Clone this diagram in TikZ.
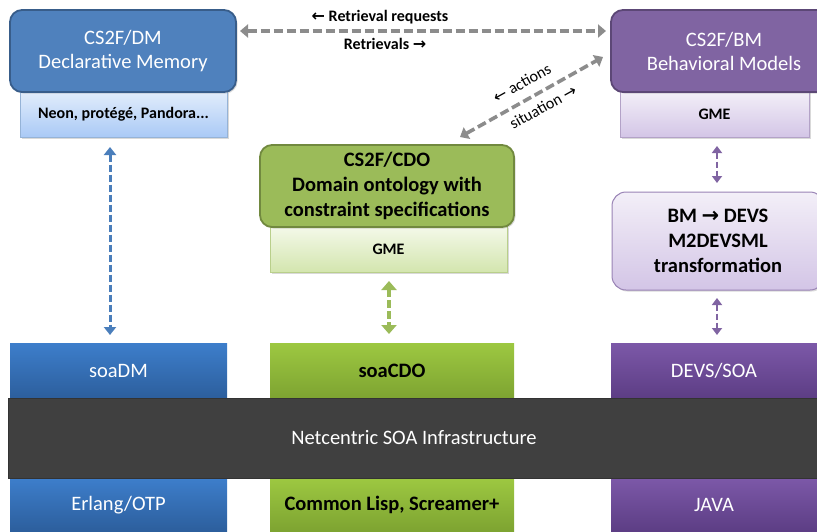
\documentclass[tikz,border=0pt]{standalone}
\usepackage{fontspec}
\setmainfont{Carlito}
\newfontfamily\symf{DejaVu Sans}
\usetikzlibrary{arrows.meta,shadows}
\definecolor{dmfill}{HTML}{4F81BD}
\definecolor{dmdraw}{HTML}{385D8A}
\definecolor{bmfill}{HTML}{8064A2}
\definecolor{bmdraw}{HTML}{5C4776}
\definecolor{cdofill}{HTML}{9BBB59}
\definecolor{cdodraw}{HTML}{71893F}
\definecolor{dmsubtop}{HTML}{E2EDFB}
\definecolor{dmsubbot}{HTML}{A9C9F6}
\definecolor{bmsubtop}{HTML}{F3EFF8}
\definecolor{bmsubbot}{HTML}{D3C5E6}
\definecolor{cdosubtop}{HTML}{F4F9E9}
\definecolor{cdosubbot}{HTML}{D3E5AE}
\definecolor{blutop}{HTML}{3D7ECB}
\definecolor{blubot}{HTML}{2C5E9C}
\definecolor{grntop}{HTML}{9DC841}
\definecolor{grnbot}{HTML}{7DA331}
\definecolor{purtop}{HTML}{7C58A8}
\definecolor{purbot}{HTML}{5C3D84}
\definecolor{bandfill}{HTML}{404040}
\definecolor{arrgray}{HTML}{8C8C8C}
\definecolor{arrblue}{HTML}{4A7EBB}
\begin{document}
\begin{tikzpicture}[x=1pt,y=-1pt,
  big/.style={font=\fontsize{20.5}{24}\selectfont},
  bigb/.style={font=\fontsize{20.5}{25}\selectfont\bfseries},
  topbox/.style={rounded corners=12pt, line width=1.8pt, inner sep=0pt, align=center, big,
    drop shadow={shadow xshift=1.5pt, shadow yshift=-1.5pt, opacity=0.3}},
  subbox/.style={inner sep=0pt, line width=0.6pt, align=center,
    font=\fontsize{16}{18}\selectfont\bfseries,
    drop shadow={shadow xshift=1.5pt, shadow yshift=-1.5pt, opacity=0.3}},
  layer/.style={inner sep=0pt, align=center, big},
  garrow/.style={draw=arrgray, line width=3.6pt, dash pattern=on 9pt off 4pt,
    {Triangle[length=8pt,width=13pt]}-{Triangle[length=8pt,width=13pt]}},
  varrow/.style={line width=3pt, dash pattern=on 7pt off 3pt,
    {Triangle[length=8pt,width=12pt]}-{Triangle[length=8pt,width=12pt]}},
  lbl/.style={inner sep=0pt, font=\fontsize{16}{18}\selectfont}
]
\useasboundingbox (0,0) rectangle (817,531);
\clip (0,0) rectangle (817,531);

% DM
\node[subbox, top color=dmsubtop, bottom color=dmsubbot, draw=dmfill!60,
  minimum width=207, minimum height=46] (dmsub) at (123.5,114.5) {Neon, protégé, Pandora...};
\node[topbox, fill=dmfill, draw=dmdraw, text=white,
  minimum width=226, minimum height=82] (dm) at (123,51) {CS2F/DM\\Declarative Memory};

% BM
\node[subbox, top color=bmsubtop, bottom color=bmsubbot, draw=bmfill!60,
  minimum width=189, minimum height=46] (bmsub) at (714.5,114.5) {GME};
\node[topbox, fill=bmfill, draw=bmdraw, text=white,
  minimum width=226, minimum height=82] (bm) at (724,51) {CS2F/BM\\Behavioral Models};

% CDO
\node[subbox, top color=cdosubtop, bottom color=cdosubbot, draw=cdofill!70,
  minimum width=237, minimum height=46] (cdosub) at (388.5,249.5) {GME};
\node[topbox, fill=cdofill, draw=cdodraw, text=black, bigb,
  minimum width=254, minimum height=82] (cdo) at (387,186) {CS2F/CDO\\Domain ontology with\\constraint specifications};

% BM -> DEVS
\node[rounded corners=14pt, line width=1pt, draw=bmfill!80, top color=bmsubtop, bottom color=bmsubbot,
  inner sep=0pt, align=center, bigb,
  drop shadow={shadow xshift=1.5pt, shadow yshift=-1.5pt, opacity=0.3},
  minimum width=212, minimum height=98] (trans) at (718,241)
  {BM {\symf\bfseries\fontsize{21}{25}\selectfont →} DEVS\\M2DEVSML\\transformation};

% bottom layers
\node[layer, top color=blutop, bottom color=blubot, text=white,
  minimum width=217, minimum height=56] (soadm) at (118.5,371) {soaDM};
\node[layer, top color=grntop, bottom color=grnbot, text=black, bigb,
  minimum width=244, minimum height=56] (soacdo) at (392,371) {soaCDO};
\node[layer, top color=purtop, bottom color=purbot, text=white,
  minimum width=206, minimum height=56] (devs) at (714,371) {DEVS/SOA};

\node[layer, top color=blutop, bottom color=blubot, text=white,
  minimum width=217, minimum height=54] (erl) at (118.5,505) {Erlang/OTP};
\node[layer, top color=grntop, bottom color=grnbot, text=black, bigb,
  minimum width=244, minimum height=54] (lisp) at (392,505) {Common Lisp, Screamer+};
\node[layer, top color=purtop, bottom color=purbot, text=white,
  minimum width=206, minimum height=54] (java) at (714,505) {JAVA};

\node[layer, fill=bandfill, draw=black!80, line width=1pt, text=white,
  minimum width=812, minimum height=80] (band) at (414,438) {Netcentric SOA Infrastructure};

% connectors
\coordinate (hl) at (240,31);
\coordinate (hr) at (606,31);
\draw[garrow] (hl) -- (hr);
\node[lbl, font=\fontsize{16}{18}\selectfont\bfseries] (lreq) at (380,17) {{\symf\fontsize{16}{16}\selectfont ←} Retrieval requests};
\node[lbl, font=\fontsize{16}{18}\selectfont\bfseries] (lret) at (385,44) {Retrievals {\symf\fontsize{16}{16}\selectfont →}};

\coordinate (dl) at (460,137);
\coordinate (dr) at (603,57);
\draw[garrow] (dl) -- (dr);
\node[lbl, rotate=29.2] (lact) at (522,83) {{\symf\fontsize{16}{16}\selectfont ←} actions};
\node[lbl, rotate=29.2] (lsit) at (543,107) {situation {\symf\fontsize{16}{16}\selectfont →}};

\coordinate (b1) at (110,147);
\coordinate (b2) at (110,335);
\draw[varrow, draw=arrblue] (b1) -- (b2);

\coordinate (g1) at (389,281);
\coordinate (g2) at (389,334);
\draw[varrow, draw=cdofill, line width=4pt, dash pattern=on 8pt off 3pt,
  {Triangle[length=9pt,width=15pt]}-{Triangle[length=9pt,width=15pt]}] (g1) -- (g2);

\coordinate (p1) at (717,146);
\coordinate (p2) at (717,183);
\draw[varrow, draw=bmfill, line width=2.6pt, dash pattern=on 6pt off 3pt,
  {Triangle[length=7pt,width=10pt]}-{Triangle[length=7pt,width=10pt]}] (p1) -- (p2);
\coordinate (p3) at (717,298);
\coordinate (p4) at (717,335);
\draw[varrow, draw=bmfill, line width=2.6pt, dash pattern=on 6pt off 3pt,
  {Triangle[length=7pt,width=10pt]}-{Triangle[length=7pt,width=10pt]}] (p3) -- (p4);
\end{tikzpicture}
\end{document}
